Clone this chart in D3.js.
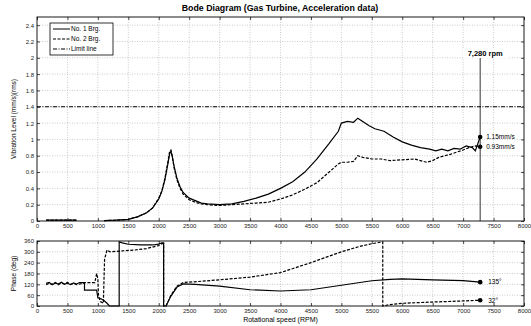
<!DOCTYPE html>
<html>
<head>
<meta charset="utf-8">
<script src="https://cdn.jsdelivr.net/npm/d3@7"></script>
<style>
  body { margin: 0; background: #fff; }
  svg { font-family: "Liberation Sans", Arial, sans-serif; }
</style>
</head>
<body>
<div id="chart"></div>
<script>
// ---- data ----
var speedTicks = d3.range(0, 8001, 500);
var ampTicks = [0, 0.2, 0.4, 0.6, 0.8, 1, 1.2, 1.4, 1.6, 1.8, 2, 2.2, 2.4];
var phaseTicks = [0, 60, 120, 180, 240, 300, 360];

var ampNo1Rpm = [150, 300, 450, 650, 700, 1100, 1300, 1500, 1650, 1800, 1900, 2000, 2050, 2100, 2150, 2180, 2200, 2220, 2250, 2300, 2350, 2400, 2500, 2600, 2700, 2800, 3000, 3200, 3400, 3600, 3800, 4000, 4200, 4400, 4600, 4800, 4950, 5000, 5100, 5200, 5270, 5350, 5450, 5550, 5700, 5850, 6000, 6150, 6300, 6450, 6550, 6650, 6750, 6850, 6950, 7050, 7150, 7200, 7280];
var ampNo1 = [0.01, 0.012, 0.01, 0.01, null, 0.005, 0.01, 0.02, 0.05, 0.1, 0.16, 0.27, 0.36, 0.5, 0.7, 0.83, 0.85, 0.8, 0.68, 0.52, 0.42, 0.35, 0.28, 0.25, 0.22, 0.21, 0.2, 0.21, 0.24, 0.28, 0.33, 0.4, 0.48, 0.6, 0.76, 0.95, 1.1, 1.2, 1.22, 1.21, 1.26, 1.22, 1.17, 1.13, 1.1, 1.03, 0.97, 0.93, 0.9, 0.88, 0.86, 0.88, 0.86, 0.89, 0.88, 0.92, 0.9, 0.86, 1.03];

var ampNo2Rpm = [150, 300, 450, 650, 700, 1100, 1300, 1500, 1650, 1800, 1900, 2000, 2050, 2100, 2150, 2180, 2200, 2220, 2250, 2300, 2350, 2400, 2500, 2600, 2700, 2800, 3000, 3200, 3400, 3600, 3800, 4000, 4200, 4400, 4600, 4800, 4950, 5000, 5100, 5200, 5270, 5350, 5500, 5650, 5800, 6000, 6200, 6400, 6500, 6600, 6800, 7000, 7100, 7200, 7280];
var ampNo2 = [0.01, 0.01, 0.012, 0.01, null, 0.005, 0.01, 0.02, 0.05, 0.1, 0.16, 0.28, 0.37, 0.52, 0.72, 0.86, 0.87, 0.8, 0.66, 0.5, 0.4, 0.33, 0.26, 0.23, 0.21, 0.2, 0.19, 0.2, 0.21, 0.22, 0.23, 0.27, 0.32, 0.39, 0.47, 0.6, 0.7, 0.72, 0.72, 0.73, 0.8, 0.78, 0.76, 0.76, 0.74, 0.75, 0.76, 0.72, 0.74, 0.78, 0.82, 0.87, 0.9, 0.92, 0.91];

var phaseNo1Rpm = [150, 200, 250, 300, 350, 400, 450, 500, 550, 600, 650, 700, 780, 780, 980, 1000, 1050, 1100, 1150, 1190, 1350, 1350, 1400, 1500, 1700, 1900, 2000, 2050, 2080, 2080, 2120, 2200, 2300, 2400, 2600, 3000, 3500, 4000, 4500, 5000, 5500, 5800, 6000, 6500, 7000, 7280];
var phaseNo1 = [125, 130, 118, 128, 122, 132, 120, 126, 118, 128, 122, 130, 130, 88, 88, 45, 40, 30, 15, 0, 0, 355, 350, 342, 338, 338, 343, 350, 350, 0, 0, 55, 105, 122, 120, 110, 90, 83, 90, 115, 140, 148, 150, 145, 140, 132];

var phaseNo2Rpm = [150, 200, 250, 300, 350, 400, 450, 500, 550, 600, 650, 750, 800, 950, 980, 1000, 1010, 1040, 1090, 1110, 1150, 1200, 1400, 1600, 1800, 2000, 2050, 2080, 2080, 2120, 2200, 2300, 2400, 2700, 3000, 3500, 4000, 4500, 5000, 5300, 5500, 5680, 5680, 5800, 6000, 6500, 7000, 7280];
var phaseNo2 = [118, 125, 120, 130, 118, 128, 122, 130, 120, 125, 118, 125, 130, 130, 180, 150, 60, 25, 15, 260, 310, 300, 305, 310, 318, 335, 345, 345, 0, 0, 60, 110, 130, 137, 145, 160, 185, 240, 300, 330, 345, 355, 0, 8, 15, 22, 28, 32];

var limitLevel = 1.4;
var markerRpm = 7280;
var ampLabels = ["1.15mm/s", "0.93mm/s"];
var phaseLabels = ["135\u00b0", "32\u00b0"];
var legendNames = ["No. 1 Brg.", "No. 2 Brg.", "Limit line"];

// ---- layout ----
var W = 531, H = 326;
var left = 37, right = 524;
var topA = 17, botA = 221;
var topP = 241, botP = 306;

var svg = d3.select("#chart").append("svg").attr("width", W).attr("height", H);

var x = d3.scaleLinear().domain([0, 8000]).range([left, right]);
var yA = d3.scaleLinear().domain([0, 2.5]).range([botA, topA]);
var yP = d3.scaleLinear().domain([0, 360]).range([botP, topP]);

function zip(r, v) {
    return r.map(function (d, i) { return [d, v[i]]; });
}

function drawFrame(y, yt, yTop, yBot, fmt) {
    var g = svg.append("g");
    // grid
    g.selectAll(".vg").data(speedTicks.slice(1, -1)).enter().append("line")
        .attr("x1", function (d) { return x(d); }).attr("x2", function (d) { return x(d); })
        .attr("y1", yTop).attr("y2", yBot)
        .attr("stroke", "#aaa").attr("stroke-width", 0.6).attr("stroke-dasharray", "1,1.5");
    g.selectAll(".hg").data(yt.filter(function (d) { return y(d) > yTop + 1 && y(d) < yBot - 1; })).enter().append("line")
        .attr("x1", left).attr("x2", right)
        .attr("y1", function (d) { return y(d); }).attr("y2", function (d) { return y(d); })
        .attr("stroke", "#aaa").attr("stroke-width", 0.6).attr("stroke-dasharray", "1,1.5");

    // axes with inward ticks on all sides
    var ax = [
        [d3.axisBottom(x).tickValues(speedTicks).tickFormat(d3.format("d")).tickSizeInner(-3).tickSizeOuter(0).tickPadding(3), "translate(0," + yBot + ")", true],
        [d3.axisTop(x).tickValues(speedTicks).tickSizeInner(-3).tickSizeOuter(0), "translate(0," + yTop + ")", false],
        [d3.axisLeft(y).tickValues(yt).tickFormat(fmt).tickSizeInner(-3).tickSizeOuter(0).tickPadding(3), "translate(" + left + ",0)", true],
        [d3.axisRight(y).tickValues(yt).tickSizeInner(-3).tickSizeOuter(0), "translate(" + right + ",0)", false]
    ];
    ax.forEach(function (a) {
        var sel = g.append("g").attr("transform", a[1]).call(a[0]);
        sel.select(".domain").remove();
        sel.selectAll("line").attr("stroke", "#000").attr("stroke-width", 0.7);
        sel.selectAll("text").attr("font-size", 6).attr("fill", "#222")
            .attr("font-family", "'Liberation Sans', Arial, sans-serif");
        if (!a[2]) sel.selectAll("text").remove();
    });
    g.append("rect").attr("x", left).attr("y", yTop).attr("width", right - left).attr("height", yBot - yTop)
        .attr("fill", "none").attr("stroke", "#000").attr("stroke-width", 0.9);
}

function ampFmt(d) { return d3.format("~g")(d); }
drawFrame(yA, ampTicks, topA, botA, ampFmt);
drawFrame(yP, phaseTicks, topP, botP, d3.format("d"));

// limit line
svg.append("line").attr("x1", left).attr("x2", right)
    .attr("y1", yA(limitLevel)).attr("y2", yA(limitLevel))
    .attr("stroke", "#000").attr("stroke-width", 1).attr("stroke-dasharray", "4,1.5,1,1.5");

var lineA = d3.line().defined(function (d) { return d[1] !== null; })
    .x(function (d) { return x(d[0]); }).y(function (d) { return yA(d[1]); });
var lineP = d3.line().x(function (d) { return x(d[0]); }).y(function (d) { return yP(d[1]); });

function drawSeries(gen, data, dash) {
    svg.append("path").datum(data).attr("d", gen)
        .attr("fill", "none").attr("stroke", "#000").attr("stroke-width", 1.2)
        .attr("stroke-dasharray", dash);
}
drawSeries(lineA, zip(ampNo2Rpm, ampNo2), "3,1.5");
drawSeries(lineA, zip(ampNo1Rpm, ampNo1), null);
drawSeries(lineP, zip(phaseNo2Rpm, phaseNo2), "3,1.5");
drawSeries(lineP, zip(phaseNo1Rpm, phaseNo1), null);

// 7,280 rpm marker line and label
svg.append("line").attr("x1", x(markerRpm)).attr("x2", x(markerRpm))
    .attr("y1", 58).attr("y2", botA).attr("stroke", "#000").attr("stroke-width", 0.8);
svg.append("rect").attr("x", x(markerRpm) - 17).attr("y", 48).attr("width", 45).attr("height", 10).attr("fill", "#fff");
svg.append("text").attr("x", x(markerRpm) + 5).attr("y", 56).attr("text-anchor", "middle")
    .attr("font-size", 7.5).attr("font-weight", "bold").text("7,280 rpm");

// end markers and labels
var ampEnd = [ampNo1[ampNo1.length - 1], ampNo2[ampNo2.length - 1]];
var phaseEnd = [phaseNo1[phaseNo1.length - 1], phaseNo2[phaseNo2.length - 1]];
ampEnd.forEach(function (v, i) {
    svg.append("circle").attr("cx", x(markerRpm)).attr("cy", yA(v)).attr("r", 2.3).attr("fill", "#000");
    svg.append("text").attr("x", x(markerRpm) + 6).attr("y", yA(v) + 2.3)
        .attr("font-size", 6.5).text(ampLabels[i]);
});
phaseEnd.forEach(function (v, i) {
    svg.append("circle").attr("cx", x(markerRpm)).attr("cy", yP(v)).attr("r", 2.3).attr("fill", "#000");
    svg.append("text").attr("x", x(markerRpm) + 8).attr("y", yP(v) + 2.3)
        .attr("font-size", 6.5).text(phaseLabels[i]);
});

// legend
var lg = svg.append("g").attr("transform", "translate(50,23)");
lg.append("rect").attr("width", 63).attr("height", 32).attr("fill", "#fff")
    .attr("stroke", "#000").attr("stroke-width", 0.8);
var dashes = [null, "3,1.5", "4,1.5,1,1.5"];
legendNames.forEach(function (n, i) {
    var yy = 6 + i * 10;
    lg.append("line").attr("x1", 3).attr("x2", 20).attr("y1", yy).attr("y2", yy)
        .attr("stroke", "#000").attr("stroke-width", 1).attr("stroke-dasharray", dashes[i]);
    lg.append("text").attr("x", 21).attr("y", yy + 2.2).attr("font-size", 6.5).text(n);
});

// titles
svg.append("text").attr("x", 280).attr("y", 11).attr("text-anchor", "middle")
    .attr("font-size", 8.8).attr("font-weight", "bold").text("Bode Diagram (Gas Turbine, Acceleration data)");
svg.append("text").attr("transform", "translate(16," + ((topA + botA) / 2) + ") rotate(-90)")
    .attr("text-anchor", "middle").attr("font-size", 6.5).text("Vibration Level (mm/s)(rms)");
svg.append("text").attr("transform", "translate(16," + ((topP + botP) / 2) + ") rotate(-90)")
    .attr("text-anchor", "middle").attr("font-size", 6.5).text("Phase (deg)");
svg.append("text").attr("x", (left + right) / 2).attr("y", 322).attr("text-anchor", "middle")
    .attr("font-size", 7).text("Rotational speed (RPM)");
</script>
</body>
</html>
